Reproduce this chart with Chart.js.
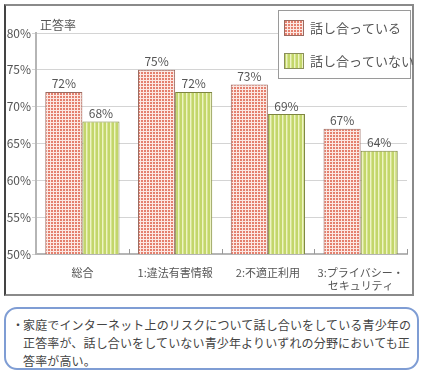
<!DOCTYPE html>
<html>
<head>
<meta charset="utf-8">
<script src="https://cdn.jsdelivr.net/npm/chart.js@4"></script>
<style>
  body { margin: 0; background: #fff; font-family: "Noto Sans CJK JP", sans-serif; }
  #wrap { position: relative; width: 423px; height: 374px; overflow: hidden; }
  #frame { position: absolute; left: 4px; top: 4px; width: 406px; height: 288px;
           border: 2px solid #8a8a8a; border-left-color: #444; }
  #chartBox { position: absolute; left: 0; top: 0; width: 423px; height: 300px; }
  #note { position: absolute; left: 4px; top: 307px; width: 411px; height: 59px;
          border: 2px solid #7f9dd4; border-radius: 13px; box-sizing: content-box;
          font-size: 12px; line-height: 18px; color: #444; white-space: nowrap; }
  #note .txt { position: absolute; left: 17px; top: 7px; letter-spacing: 0.15px; }
  #note .dot { position: absolute; left: 6px; top: 7px; }
</style>
</head>
<body>
<div id="wrap">
  <div id="frame"></div>
  <div id="chartBox"><canvas id="chart" width="423" height="300"></canvas></div>
  <div id="note">
    <span class="dot">・</span>
    <div class="txt">家庭でインターネット上のリスクについて話し合いをしている青少年の<br>正答率が、話し合いをしていない青少年よりいずれの分野においても正<br>答率が高い。</div>
  </div>
</div>
<script>
// data
const categories = ['総合', '1:違法有害情報', '2:不適正利用', ['3:プライバシー・', 'セキュリティ']];
const talking = [72, 75, 73, 67];      // 話し合っている
const notTalking = [68, 72, 69, 64];   // 話し合っていない
const seriesNames = ['話し合っている', '話し合っていない'];
const yTicks = [50, 55, 60, 65, 70, 75, 80];

const FONT = '"Noto Sans CJK JP", sans-serif';
const TEXT = '#555';

// small pattern tiles for the bars
function checkPattern() {
    const c = document.createElement('canvas');
    c.width = 3; c.height = 3;
    const g = c.getContext('2d');
    g.fillStyle = '#e4806e';
    g.fillRect(0, 0, 3, 3);
    g.fillStyle = '#fce8e3';
    g.fillRect(2, 0, 1, 3);
    g.fillRect(0, 2, 3, 1);
    return g.createPattern(c, 'repeat');
}
function stripePattern() {
    const c = document.createElement('canvas');
    c.width = 4; c.height = 4;
    const g = c.getContext('2d');
    g.fillStyle = '#c3d66a';
    g.fillRect(0, 0, 4, 4);
    g.fillStyle = '#eef4c4';
    g.fillRect(2, 0, 1, 4);
    g.fillStyle = '#d6e491';
    g.fillRect(3, 0, 1, 4);
    return g.createPattern(c, 'repeat');
}

const redFill = checkPattern();
const greenFill = stripePattern();

// value labels, title, legend box and inward x ticks
const extras = {
    id: 'extras',
    afterDatasetsDraw(chart) {
        const ctx = chart.ctx;
        ctx.save();
        ctx.font = '12px ' + FONT;
        ctx.fillStyle = TEXT;
        ctx.textAlign = 'center';
        ctx.textBaseline = 'middle';
        chart.data.datasets.forEach((ds, i) => {
            chart.getDatasetMeta(i).data.forEach((bar, j) => {
                ctx.fillText(ds.data[j] + '%', bar.x, bar.y - 8);
            });
        });

        // x axis ticks pointing up at category boundaries
        const x = chart.scales.x, area = chart.chartArea;
        const step = x.width / categories.length;
        ctx.strokeStyle = '#999';
        ctx.lineWidth = 1;
        for (let i = 1; i <= categories.length; i++) {
            const px = Math.round(x.left + step * i) + 0.5;
            ctx.beginPath();
            ctx.moveTo(px, area.bottom);
            ctx.lineTo(px, area.bottom - 5);
            ctx.stroke();
        }

        // axis title
        ctx.textAlign = 'left';
        ctx.font = '12px ' + FONT;
        ctx.fillStyle = TEXT;
        ctx.fillText('正答率', 40, 25);

        // legend
        ctx.fillStyle = '#fff';
        ctx.fillRect(278, 10, 133, 69);
        ctx.strokeStyle = '#9a9a9a';
        ctx.strokeRect(278.5, 10.5, 132, 68);
        const fills = [redFill, greenFill];
        const borders = ['#9b6a60', '#8a8f5a'];
        [20, 53].forEach((yy, i) => {
            ctx.fillStyle = fills[i];
            ctx.fillRect(284, yy, 20, 16);
            ctx.strokeStyle = borders[i];
            ctx.strokeRect(284.5, yy + 0.5, 19, 15);
            ctx.fillStyle = TEXT;
            ctx.font = '13px ' + FONT;
            ctx.fillText(seriesNames[i], 310, yy + 8);
        });
        ctx.restore();
    }
};

new Chart(document.getElementById('chart'), {
    type: 'bar',
    data: {
        labels: categories,
        datasets: [
            { label: seriesNames[0], data: talking, backgroundColor: redFill,
              borderColor: '#9b6a60', borderWidth: 1 },
            { label: seriesNames[1], data: notTalking, backgroundColor: greenFill,
              borderColor: '#7d8540', borderWidth: 1 }
        ]
    },
    options: {
        responsive: false,
        animation: false,
        layout: { padding: { left: 0, top: 33, right: 16, bottom: 0 } },
        datasets: { bar: { categoryPercentage: 0.8, barPercentage: 1.0 } },
        plugins: { legend: { display: false }, tooltip: { enabled: false } },
        scales: {
            x: {
                grid: { display: false },
                border: { color: '#b5b5b5', width: 2 },
                ticks: { color: TEXT, font: { family: FONT, size: 11 }, padding: 4, maxRotation: 0, autoSkip: false },
                afterFit: s => { s.height = 46; }
            },
            y: {
                min: 50, max: 80,
                afterBuildTicks: s => { s.ticks = yTicks.map(v => ({ value: v })); },
                grid: { color: '#d4d4d4', lineWidth: 1, tickLength: 4 },
                border: { color: '#b5b5b5', width: 2 },
                ticks: { color: TEXT, font: { family: FONT, size: 12 }, padding: 1,
                         callback: v => v + '%' },
                afterFit: s => { s.width = 36; }
            }
        }
    },
    plugins: [extras]
});
</script>
</body>
</html>
